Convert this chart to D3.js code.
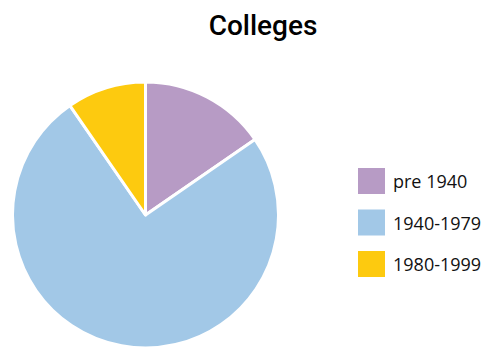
<!DOCTYPE html>
<html>
<head>
<meta charset="utf-8">
<script src="https://cdn.jsdelivr.net/npm/d3@7"></script>
<style>
  html, body { margin: 0; padding: 0; background: #fff; }
  svg { display: block; }
</style>
</head>
<body>
<svg id="chart" width="483" height="347"></svg>
<script>
// Number of colleges by founding period
const categories = ["pre 1940", "1940-1979", "1980-1999"];
const values = [16, 78, 10];
const colors = ["#b79bc5", "#a2c8e7", "#fdca0f"];

const svg = d3.select("#chart");

svg.append("text")
  .attr("x", 263)
  .attr("y", 35)
  .attr("text-anchor", "middle")
  .attr("font-family", "Roboto, Arial, sans-serif")
  .attr("font-weight", 500)
  .attr("font-size", 28)
  .attr("fill", "#000")
  .text("Colleges");

const data = categories.map((c, i) => ({ label: c, value: values[i] }));
const color = d3.scaleOrdinal().domain(categories).range(colors);

const pie = d3.pie().sort(null).value(d => d.value);
const arc = d3.arc().innerRadius(0).outerRadius(133);

const g = svg.append("g").attr("transform", "translate(145.5,215)");
g.selectAll("path")
  .data(pie(data))
  .join("path")
  .attr("d", arc)
  .attr("fill", d => color(d.data.label))
  .attr("stroke", "#fff")
  .attr("stroke-width", 3)
  .attr("stroke-linejoin", "round");

const legend = svg.append("g").attr("transform", "translate(358,168)");
const item = legend.selectAll("g")
  .data(categories)
  .join("g")
  .attr("transform", (d, i) => `translate(0,${i * 41.5})`);
item.append("rect")
  .attr("width", 27)
  .attr("height", 26)
  .attr("fill", d => color(d));
item.append("text")
  .attr("x", 35)
  .attr("y", 20)
  .attr("font-family", "Open Sans, sans-serif")
  .attr("font-size", 18)
  .attr("fill", "#111")
  .text(d => d);
</script>
</body>
</html>
